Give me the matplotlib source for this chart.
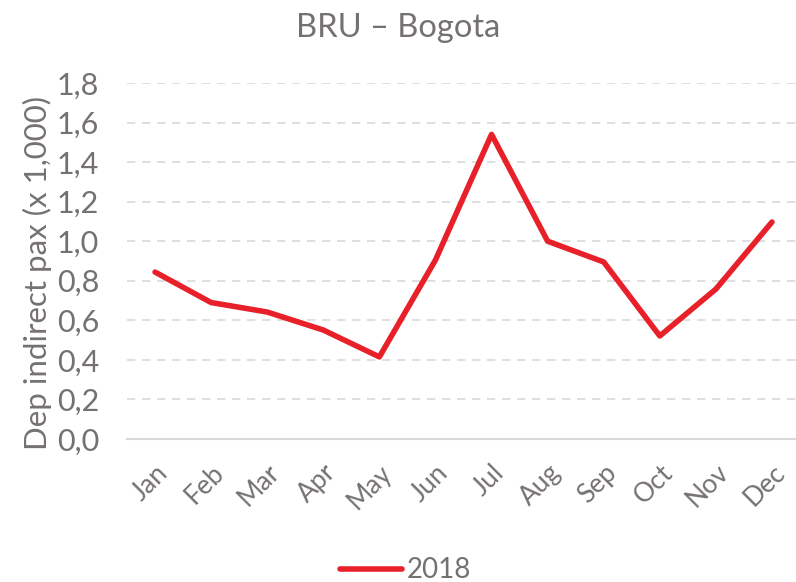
import matplotlib
matplotlib.use("Agg")
import matplotlib.pyplot as plt

months = ["Jan", "Feb", "Mar", "Apr", "May", "Jun", "Jul", "Aug", "Sep", "Oct", "Nov", "Dec"]
pax_2018 = [0.844, 0.690, 0.642, 0.551, 0.415, 0.905, 1.540, 1.000, 0.895, 0.521, 0.758, 1.097]
yticks = [0.0, 0.2, 0.4, 0.6, 0.8, 1.0, 1.2, 1.4, 1.6, 1.8]
ytick_labels = ["0,0", "0,2", "0,4", "0,6", "0,8", "1,0", "1,2", "1,4", "1,6", "1,8"]

txt = "#767171"
plt.rcParams['font.family'] = ['Lato', 'DejaVu Sans']

fig = plt.figure(figsize=(7.96, 5.82), dpi=100)
ax = fig.add_axes([127 / 796, 1 - 439 / 582, 673 / 796, (439 - 83) / 582])

x = range(len(months))
ax.plot(x, pax_2018, color="#E8202A", linewidth=4, solid_capstyle="round", label="2018")

ax.set_xlim(-0.5, 11.5)
ax.set_ylim(0, 1.8)
ax.set_yticks(yticks)
ax.set_yticklabels(ytick_labels)
ax.set_xticks(list(x))
ax.set_xticklabels(months, rotation=45, ha="right", va="top", rotation_mode="anchor")

for v in yticks[1:]:
    ax.axhline(v, color="#D9D9D9", linewidth=1.2, linestyle=(0, (5, 4)), zorder=0)
for s in ["top", "right", "left"]:
    ax.spines[s].set_visible(False)
ax.spines["bottom"].set_color("#D9D9D9")
ax.spines["bottom"].set_linewidth(1.5)
ax.tick_params(axis="both", length=0, colors=txt)
ax.tick_params(axis="y", labelsize=22, pad=20)
ax.tick_params(axis="x", labelsize=19, pad=15)

ax.set_ylabel("Dep indirect pax (x 1,000)", fontsize=22.5, color=txt)
ax.yaxis.set_label_coords(-0.112, 0.465)
fig.text(0.5, 0.952, "BRU \u2013 Bogota", ha="center", va="center", fontsize=23.5, color=txt)

leg = fig.legend(loc="center", bbox_to_anchor=(0.51, 0.02), frameon=False, fontsize=20,
                 handlelength=2.2, handletextpad=0.2)
for t in leg.get_texts():
    t.set_color(txt)

fig.savefig("out.png", dpi=100)
